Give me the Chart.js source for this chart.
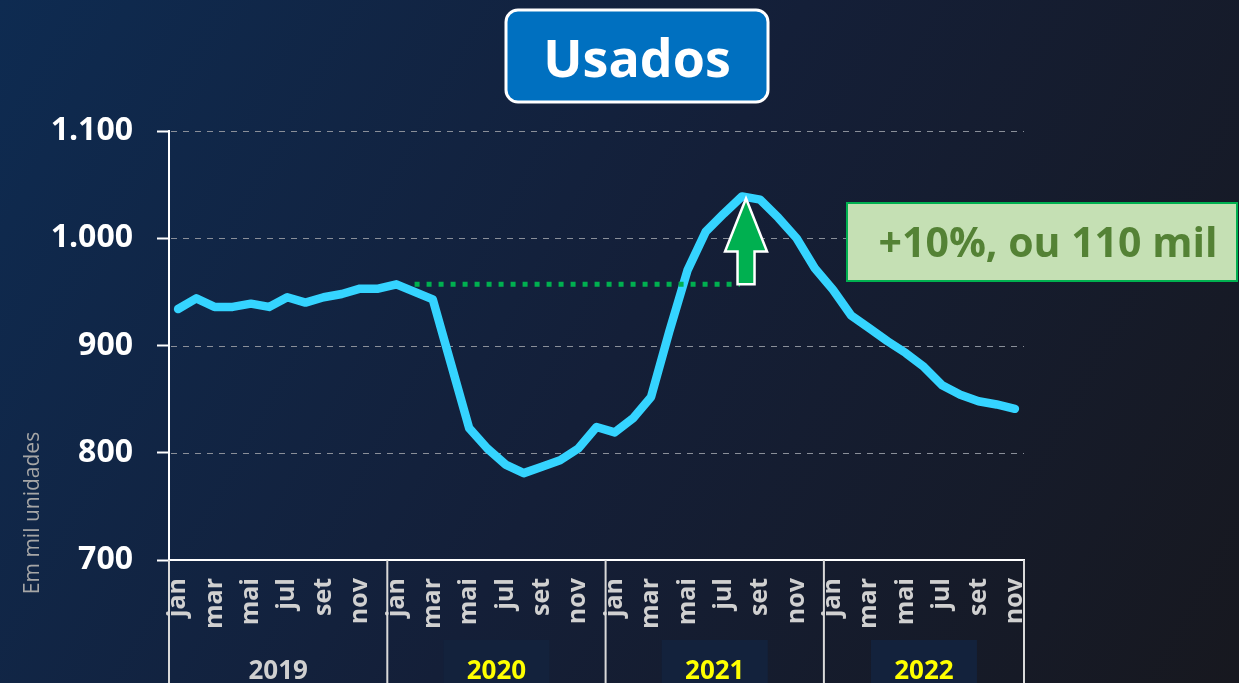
<!DOCTYPE html>
<html>
<head>
<meta charset="utf-8">
<script src="https://cdn.jsdelivr.net/npm/chart.js@4/dist/chart.umd.min.js"></script>
<style>
html, body { margin: 0; padding: 0; background: #141f38; }
canvas { display: block; }
</style>
</head>
<body>
<canvas id="usados" width="1239" height="683"></canvas>
<script>
const years = ['2019', '2020', '2021', '2022'];
const months = ['jan', 'fev', 'mar', 'abr', 'mai', 'jun', 'jul', 'ago', 'set', 'out', 'nov', 'dez'];
// em mil unidades, jan/2019 a nov/2022
const usados = [
	934, 944, 936, 936, 939, 936, 945, 940, 945, 948, 953, 953,
	957, 950, 943, 883, 823, 804, 789, 781, 787, 793, 804, 824,
	819, 832, 852, 913, 970, 1006, 1023, 1039, 1036, 1019, 1000, 972,
	952, 928, 916, 904, 893, 880, 863, 854, 848, 845, 841
];
const yTicks = [700, 800, 900, 1000, 1100];
const refIndex = 12;  // jan 2020
const peakIndex = 31; // ago 2021
const titleText = 'Usados';
const noteText = '+10%, ou 110 mil';
const axisTitle = 'Em mil unidades';

const labels = [];
years.forEach((yr) => months.forEach((m) => {
	if (labels.length < usados.length) labels.push({ year: yr, month: m });
}));

const FONT = 'Open Sans';
const fmt = (v) => String(v).replace(/\B(?=(\d{3})+(?!\d))/g, '.');

const decor = {
	id: 'decor',
	beforeDraw(chart) {
		const { ctx, width, height } = chart;
		const g = ctx.createLinearGradient(0, 0, width, height);
		g.addColorStop(0, '#0e2b51');
		g.addColorStop(0.5, '#141f38');
		g.addColorStop(1, '#17181f');
		ctx.save();
		ctx.fillStyle = g;
		ctx.fillRect(0, 0, width, height);
		ctx.restore();
	},
	beforeDatasetsDraw(chart) {
		const { ctx, chartArea: a, scales: { y } } = chart;
		ctx.save();
		ctx.strokeStyle = '#8a8f99';
		ctx.lineWidth = 1;
		ctx.setLineDash([6, 6]);
		yTicks.slice(1).forEach((v) => {
			const py = Math.round(y.getPixelForValue(v)) + 0.5;
			ctx.beginPath();
			ctx.moveTo(a.left + 2, py);
			ctx.lineTo(a.right, py);
			ctx.stroke();
		});
		ctx.restore();
	},
	afterDatasetsDraw(chart) {
		const { ctx, scales: { x, y } } = chart;
		const refY = y.getPixelForValue(usados[refIndex]);
		const ax = x.getPixelForValue(peakIndex) + 4;
		ctx.save();
		// green dotted reference line
		ctx.strokeStyle = '#00b050';
		ctx.lineWidth = 5;
		ctx.setLineDash([5, 7]);
		ctx.beginPath();
		ctx.moveTo(x.getPixelForValue(refIndex + 1), refY);
		ctx.lineTo(ax - 6, refY);
		ctx.stroke();
		ctx.setLineDash([]);
		// up arrow
		const tipY = y.getPixelForValue(usados[peakIndex]) + 2;
		const headY = tipY + 53;
		ctx.beginPath();
		ctx.moveTo(ax, tipY);
		ctx.lineTo(ax + 21, headY);
		ctx.lineTo(ax + 8.5, headY);
		ctx.lineTo(ax + 8.5, refY);
		ctx.lineTo(ax - 8.5, refY);
		ctx.lineTo(ax - 8.5, headY);
		ctx.lineTo(ax - 21, headY);
		ctx.closePath();
		ctx.fillStyle = '#00b050';
		ctx.fill();
		ctx.strokeStyle = '#ffffff';
		ctx.lineWidth = 2.5;
		ctx.lineJoin = 'miter';
		ctx.stroke();
		ctx.restore();
	},
	afterDraw(chart) {
		const { ctx, chartArea: a, height, scales: { x } } = chart;
		const half = (x.getPixelForValue(1) - x.getPixelForValue(0)) / 2;
		ctx.save();
		// year separators
		ctx.strokeStyle = '#d9d9d9';
		ctx.lineWidth = 2;
		const starts = years.map((yr) => labels.findIndex((l) => l.year === yr));
		const edges = starts.map((i) => x.getPixelForValue(i) - half).concat([a.right]);
		edges.forEach((ex) => {
			ctx.beginPath();
			ctx.moveTo(ex, a.bottom);
			ctx.lineTo(ex, height);
			ctx.stroke();
		});
		// year labels
		ctx.font = 'bold 26px "' + FONT + '"';
		ctx.textAlign = 'center';
		ctx.textBaseline = 'alphabetic';
		years.forEach((yr, k) => {
			const cx = (edges[k] + edges[k + 1]) / 2;
			if (k > 0) {
				ctx.fillStyle = '#13223c';
				ctx.fillRect(cx - 53, 640, 106, height - 640);
			}
			ctx.fillStyle = k === 0 ? '#d0d0d0' : '#ffff00';
			ctx.fillText(yr, cx, 679);
		});
		// axis title
		ctx.save();
		ctx.translate(33, 513);
		ctx.rotate(-Math.PI / 2);
		ctx.font = '21px "' + FONT + '"';
		ctx.fillStyle = '#a6a6a6';
		ctx.textBaseline = 'middle';
		ctx.fillText(axisTitle, 0, 0);
		ctx.restore();
		// title box
		ctx.beginPath();
		ctx.roundRect(506, 10, 262, 92, 12);
		ctx.fillStyle = '#0070c0';
		ctx.fill();
		ctx.strokeStyle = '#ffffff';
		ctx.lineWidth = 3;
		ctx.stroke();
		ctx.fillStyle = '#ffffff';
		ctx.font = 'bold 52px "' + FONT + '"';
		ctx.fillText(titleText, 637, 77);
		// note box
		ctx.fillStyle = '#c5e0b4';
		ctx.fillRect(847, 203, 390, 78);
		ctx.strokeStyle = '#00b050';
		ctx.lineWidth = 2;
		ctx.strokeRect(847, 203, 390, 78);
		ctx.fillStyle = '#548235';
		ctx.font = 'bold 41px "' + FONT + '"';
		ctx.fillText(noteText, 1048, 257);
		ctx.restore();
	}
};

new Chart(document.getElementById('usados'), {
	type: 'line',
	plugins: [decor],
	data: {
		labels: labels.map((l) => l.month + '/' + l.year),
		datasets: [{
			label: 'Usados',
			data: usados,
			borderColor: '#35d4ff',
			borderWidth: 8.5,
			pointRadius: 0,
			tension: 0,
			borderCapStyle: 'round',
			borderJoinStyle: 'round'
		}]
	},
	options: {
		responsive: false,
		animation: false,
		layout: { padding: { top: 131, right: 215, left: 0, bottom: 0 } },
		plugins: { legend: { display: false }, tooltip: { enabled: false } },
		scales: {
			x: {
				offset: true,
				grid: { display: false, drawTicks: false },
				border: { display: true, color: '#ffffff', width: 2 },
				ticks: {
					autoSkip: false,
					minRotation: 90,
					maxRotation: 90,
					padding: 18,
					color: '#d0d0d0',
					font: { family: FONT, weight: 'bold', size: 25 },
					callback: (v, i) => (i % 2 === 0 ? labels[i].month : '')
				},
				afterFit: (s) => { s.height = 123; }
			},
			y: {
				min: 700,
				max: 1100,
				afterBuildTicks: (s) => { s.ticks = yTicks.map((v) => ({ value: v })); },
				grid: { drawOnChartArea: false, drawTicks: true, tickLength: 12, tickColor: '#ffffff', tickWidth: 2, color: '#ffffff' },
				border: { display: true, color: '#ffffff', width: 2 },
				ticks: {
					padding: 24,
					color: '#ffffff',
					font: { family: FONT, weight: 'bold', size: 32 },
					callback: (v) => fmt(v)
				},
				afterFit: (s) => { s.width = 169; }
			}
		}
	}
});
</script>
</body>
</html>
